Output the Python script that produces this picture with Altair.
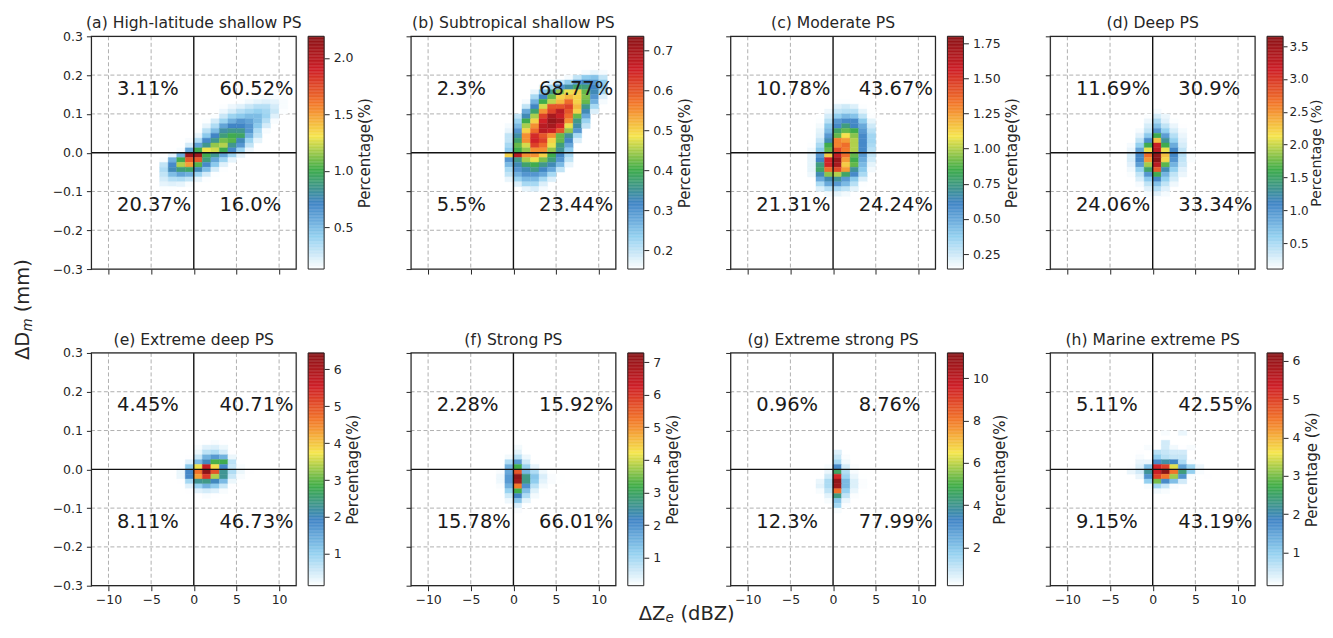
import altair as alt
import pandas as pd

FONT = "DejaVu Sans"
INK = "#262626"
STOPS = ["#ffffff", "#93d0f0", "#4185c6", "#40ad4a", "#f6e64e", "#f3772b", "#cf2028", "#8a1518"]

TITLES = ["(a) High-latitude shallow PS", "(b) Subtropical shallow PS", "(c) Moderate PS", "(d) Deep PS",
          "(e) Extreme deep PS", "(f) Strong PS", "(g) Extreme strong PS", "(h) Marine extreme PS"]
CB_TITLES = ["Percentage(%)", "Percentage(%)", "Percentage(%)", "Percentage (%)",
             "Percentage(%)", "Percentage(%)", "Percentage(%)", "Percentage (%)"]
VMIN = [0.132, 0.1525, 0.143, 0.104, 0.14, 0.14, 0.19, 0.14]
VMAX = [2.19, 0.735, 1.80, 3.65, 6.44, 7.28, 11.2, 6.2]
CB_TICKS = [[0.5, 1.0, 1.5, 2.0], [0.2, 0.3, 0.4, 0.5, 0.6, 0.7],
            [0.25, 0.5, 0.75, 1.0, 1.25, 1.5, 1.75], [0.5, 1.0, 1.5, 2.0, 2.5, 3.0, 3.5],
            [1, 2, 3, 4, 5, 6], [1, 2, 3, 4, 5, 6, 7], [2, 4, 6, 8, 10], [1, 2, 3, 4, 5, 6]]
CB_FORMAT = [".1f", ".1f", ".2f", ".1f", "d", "d", "d", "d"]

ANNOT = [["3.11%", "60.52%", "20.37%", "16.0%"], ["2.3%", "68.77%", "5.5%", "23.44%"],
         ["10.78%", "43.67%", "21.31%", "24.24%"], ["11.69%", "30.9%", "24.06%", "33.34%"],
         ["4.45%", "40.71%", "8.11%", "46.73%"], ["2.28%", "15.92%", "15.78%", "66.01%"],
         ["0.96%", "8.76%", "12.3%", "77.99%"], ["5.11%", "42.55%", "9.15%", "43.19%"]]
ANNOT_X = [-9, 3, -9, 3]
ANNOT_Y = [0.15, 0.15, -0.15, -0.15]

X_TICKS = [-10, -5, 0, 5, 10]
Y_TICKS = [-0.3, -0.2, -0.1, 0.0, 0.1, 0.2, 0.3]
GRID_X = [-10, -5, 5, 10]
GRID_Y = [-0.2, -0.1, 0.1, 0.2]
DY = 0.0125

# each row: (row number, first dBZ bin, percentages); row k spans (k-1)*DY .. k*DY
PANEL_A = [
    (12, 7, [.14, .15, .15, .14]),
    (11, 5, [.14, .17, .2, .22, .2, .15]),
    (10, 3, [.14, .18, .22, .28, .33, .33, .25, .15]),
    (9, 3, [.18, .25, .33, .38, .42, .38, .28, .14]),
    (8, 2, [.14, .28, .4, .45, .5, .5, .4, .22]),
    (7, 1, [.14, .25, .4, .55, .65, .6, .5, .33, .15]),
    (6, 1, [.2, .35, .6, .72, .72, .65, .45, .25]),
    (5, 0, [.14, .32, .5, .8, .85, .85, .65, .35, .15]),
    (4, 0, [.2, .45, .72, .9, 1.0, .95, .55, .3]),
    (3, -1, [.15, .35, .7, .85, 1.1, 1.05, .75, .4, .2]),
    (2, -1, [.25, .6, .85, 1.15, 1.2, .85, .65, .3]),
    (1, -2, [.15, .6, 1.0, 1.3, 1.25, 1.0, .7, .4, .18]),
    (0, -3, [.2, .55, 2.1, 2.1, 1.0, .85, .6, .4, .2]),
    (-1, -4, [.15, .55, 1.0, 1.7, 1.7, .9, .6, .4, .2]),
    (-2, -4, [.3, .7, 1.2, 1.5, 1.05, .7, .45, .22]),
    (-3, -4, [.35, .75, .9, .95, .75, .5, .25, .14]),
    (-4, -4, [.3, .5, .6, .55, .4, .25, .14]),
    (-5, -4, [.25, .33, .35, .3, .2, .14]),
    (-6, -4, [.2, .22, .2, .15]),
    (-7, -4, [.14, .14]),
]
PANEL_B = [
    (17, 8, [.16, .17, .16]),
    (16, 6, [.16, .2, .24, .25, .2]),
    (15, 4, [.17, .2, .24, .3, .32, .3, .24]),
    (14, 3, [.17, .22, .3, .34, .38, .37, .32, .25]),
    (13, 2, [.17, .25, .36, .44, .48, .5, .42, .33, .22]),
    (12, 2, [.22, .32, .42, .5, .52, .5, .43, .3, .18]),
    (11, 1, [.16, .27, .4, .46, .52, .58, .5, .42, .27, .16]),
    (10, 1, [.2, .32, .47, .6, .6, .62, .52, .36, .22]),
    (9, 1, [.28, .38, .55, .62, .68, .6, .5, .33, .18]),
    (8, 0, [.2, .33, .45, .62, .7, .66, .58, .42, .28]),
    (7, 0, [.23, .4, .5, .65, .72, .7, .55, .36, .23]),
    (6, -1, [.16, .26, .45, .55, .68, .7, .65, .48, .34, .2]),
    (5, -1, [.17, .3, .5, .58, .68, .66, .6, .44, .3]),
    (4, -1, [.2, .34, .55, .64, .6, .55, .42, .35, .22]),
    (3, -1, [.2, .38, .55, .65, .62, .5, .42, .32, .18]),
    (2, -1, [.22, .42, .47, .62, .58, .48, .37, .28]),
    (1, -1, [.24, .4, .44, .55, .55, .44, .35, .24]),
    (0, -1, [.5, .68, .55, .55, .5, .4, .32, .22]),
    (-1, -1, [.3, .36, .45, .48, .43, .37, .3, .2]),
    (-2, -1, [.26, .33, .38, .4, .36, .33, .26, .17]),
    (-3, -1, [.22, .3, .33, .36, .32, .28, .2]),
    (-4, -1, [.2, .27, .3, .3, .28, .22]),
    (-5, -1, [.17, .23, .26, .26, .22, .18]),
    (-6, 0, [.18, .22, .22, .18]),
    (-7, 1, [.17, .18, .16]),
]
PANEL_C = [
    (11, 0, [.15, .15, .145]),
    (10, -1, [.145, .22, .25, .22, .15]),
    (9, -1, [.18, .28, .3, .3, .2, .145]),
    (8, -2, [.145, .24, .38, .45, .42, .28, .15]),
    (7, -2, [.15, .3, .55, .6, .6, .4, .2]),
    (6, -2, [.17, .4, .6, .75, .62, .5, .25]),
    (5, -2, [.2, .45, .8, .9, .85, .55, .3]),
    (4, -2, [.22, .55, .9, 1.1, .95, .6, .35]),
    (3, -3, [.145, .27, .65, 1.3, 1.25, 1.0, .6, .35]),
    (2, -3, [.15, .33, .85, 1.3, 1.35, 1.0, .6, .33]),
    (1, -3, [.17, .4, .9, 1.45, 1.32, 1.0, .6, .3]),
    (0, -3, [.2, .55, 1.15, 1.6, 1.35, .9, .55, .28]),
    (-1, -3, [.2, .62, 1.55, 1.75, 1.25, .85, .5, .25]),
    (-2, -3, [.2, .75, 1.55, 1.7, 1.15, .9, .45, .2]),
    (-3, -3, [.2, .8, 1.35, 1.45, 1.25, .7, .4, .17]),
    (-4, -3, [.18, .65, .95, 1.0, .8, .6, .33]),
    (-5, -2, [.5, .65, .7, .55, .4, .22]),
    (-6, -2, [.33, .5, .55, .45, .3, .15]),
    (-7, -2, [.22, .3, .33, .28, .2]),
    (-8, -1, [.17, .2, .17]),
]
PANEL_D = [
    (9, 0, [.15]),
    (8, -1, [.12, .3, .2]),
    (7, -1, [.2, .5, .25, .12]),
    (6, -1, [.3, .7, .4, .2, .11]),
    (5, -2, [.15, .4, 1.0, .6, .3, .15]),
    (4, -2, [.25, .65, 1.6, .95, .45, .2]),
    (3, -2, [.4, 1.05, 2.3, 1.3, .6, .25]),
    (2, -3, [.15, .6, 1.6, 3.2, 1.6, .85, .3]),
    (1, -3, [.2, .9, 2.1, 3.3, 2.1, 1.1, .4, .12]),
    (0, -3, [.3, 1.1, 2.7, 3.6, 2.3, 1.1, .45, .13]),
    (-1, -3, [.3, 1.1, 2.5, 3.65, 2.2, 1.0, .4, .13]),
    (-2, -3, [.25, .95, 1.9, 3.3, 1.7, .8, .35]),
    (-3, -3, [.18, .6, 1.5, 2.8, 1.2, .6, .25]),
    (-4, -3, [.13, .4, 1.0, 1.6, .8, .4, .2]),
    (-5, -2, [.28, .65, 1.1, .6, .3]),
    (-6, -2, [.15, .4, .7, .4, .18]),
    (-7, -1, [.25, .45, .25]),
    (-8, -1, [.15, .25, .15]),
    (-9, 0, [.12]),
]
PANEL_E = [
    (6, 1, [.15, .2, .15]),
    (5, 0, [.2, .4, .45, .3]),
    (4, 0, [.3, .7, .8, .5, .15]),
    (3, -1, [.15, .6, 1.4, 1.7, 1.4, .3]),
    (2, -1, [.4, 1.3, 2.0, 2.9, 2.8, .7, .15]),
    (1, -2, [.15, 1.1, 3.7, 5.7, 3.8, 1.9, .6, .2]),
    (0, -2, [.3, 1.9, 4.7, 6.4, 5.0, 2.3, .8, .3, .15]),
    (-1, -2, [.3, 1.9, 4.3, 5.3, 3.4, 2.3, .6, .2]),
    (-2, -2, [.15, .9, 2.3, 2.4, 2.0, 1.3, .3]),
    (-3, -1, [.4, 1.0, 1.4, 1.1, .6, .15]),
    (-4, -1, [.15, .4, .5, .4, .2]),
    (-5, 0, [.15, .2, .15]),
]
PANEL_F = [
    (6, 0, [.15]),
    (5, 0, [.25]),
    (4, 0, [.4, .15]),
    (3, -1, [.25, .8, .3]),
    (2, -1, [.9, 1.9, .6, .15]),
    (1, -1, [1.6, 3.2, 1.1, .35]),
    (0, -2, [.2, 1.7, 5.6, 1.5, .9, .3, .15]),
    (-1, -2, [.3, 1.9, 7.2, 2.7, 1.3, .5, .2, .15]),
    (-2, -2, [.3, 1.9, 7.0, 2.7, 1.2, .4, .2, .15]),
    (-3, -2, [.2, 1.6, 5.2, 2.0, .8, .25]),
    (-4, -2, [.15, 1.1, 3.2, 1.4, .45, .15]),
    (-5, -1, [.6, 2.2, .9, .25]),
    (-6, -1, [.3, 1.3, .4]),
    (-7, 0, [.5, .15]),
    (-8, 0, [.2]),
]
PANEL_G = [
    (4, 0, [.7]),
    (3, 0, [1.0, .25]),
    (2, 0, [1.5, .4]),
    (1, -1, [.3, 3.2, .8, .25]),
    (0, -1, [.5, 4.6, 1.3, .3]),
    (-1, -2, [.2, .9, 9.5, 1.6, .5, .2]),
    (-2, -2, [.5, 1.4, 11.0, 2.2, .7, .25]),
    (-3, -2, [.6, 1.4, 10.8, 2.2, .7, .25]),
    (-4, -2, [.3, 1.1, 8.2, 1.7, .5, .2]),
    (-5, -1, [.6, 4.2, 1.1, .25]),
    (-6, -1, [.3, 2.0, .5]),
    (-7, 0, [1.5, .25]),
    (-8, 0, [.3]),
]
PANEL_H = [
    (8, 1, [.2, 0, .3]),
    (6, 1, [.5]),
    (5, -1, [.2, 0, .5, .25, .15, .2]),
    (4, -2, [.15, 0, .7, .6, .5, .5]),
    (3, -2, [.2, 0, 1.0, .7, .6, .6]),
    (2, -2, [.3, .3, 1.8, 2.1, 1.9, .8, .2, .15]),
    (1, -3, [.15, .4, 1.2, 5.3, 5.0, 3.5, 1.5, .9, .3]),
    (0, -3, [.3, .5, 2.2, 5.4, 6.2, 4.5, 2.4, 1.0, .2]),
    (-1, -2, [.3, 1.7, 5.0, 4.5, 3.2, 1.7, .2, 0, .15]),
    (-2, -1, [1.0, 3.0, 1.8, 1.2, .5]),
    (-3, -1, [.2, .9, .6, .2]),
    (-4, 0, [.25, .2]),
]
PANELS = [PANEL_A, PANEL_B, PANEL_C, PANEL_D, PANEL_E, PANEL_F, PANEL_G, PANEL_H]


def cells(rows):
    out = []
    for r, start, vals in rows:
        for i, v in enumerate(vals):
            if v > 0:
                out.append({"x0": start + i, "x1": start + i + 1,
                            "y0": (r - 1) * DY, "y1": r * DY, "v": v})
    return pd.DataFrame(out)


def label(text, x, y, size=19.5, angle=0, style="normal", align="left", base="alphabetic"):
    return alt.Chart(pd.DataFrame({"t": [text]})).mark_text(
        font=FONT, fontSize=size, angle=angle, fontStyle=style, align=align, baseline=base, color=INK).encode(
        x=alt.value(x), y=alt.value(y), text="t:N")


def panel(i):
    lo, hi = VMIN[i], VMAX[i]
    dom = [lo + k * (hi - lo) / 7 for k in range(8)]
    col = alt.Scale(domain=dom, range=STOPS, clamp=True, interpolate="rgb")
    xs = alt.Scale(domain=[-12, 12], nice=False)
    ys = alt.Scale(domain=[-0.3, 0.3], nice=False)
    show_y = i % 4 == 0
    show_x = i >= 4
    xa = alt.Axis(values=X_TICKS, labels=show_x, title=None, grid=False, domain=False, tickSize=5,
                  tickColor=INK, labelColor=INK, labelFont=FONT, labelFontSize=12.5, labelPadding=3,
                  labelOverlap=False, labelExpr="replace(format(datum.value,'d'),'-','−')")
    ya = alt.Axis(values=Y_TICKS, labels=show_y, title=None, grid=False, domain=False, tickSize=5,
                  tickColor=INK, labelColor=INK, labelFont=FONT, labelFontSize=12.5, labelPadding=4,
                  labelOverlap=False, labelExpr="replace(format(datum.value,'.1f'),'-','−')")
    grid_x = alt.Chart(pd.DataFrame({"x": GRID_X})).mark_rule(color="#b0b0b0", strokeDash=[4, 2.5], strokeWidth=1).encode(
        x=alt.X("x:Q", scale=xs, axis=xa))
    grid_y = alt.Chart(pd.DataFrame({"y": GRID_Y})).mark_rule(color="#b0b0b0", strokeDash=[4, 2.5], strokeWidth=1).encode(
        y=alt.Y("y:Q", scale=ys, axis=ya))
    heat = alt.Chart(cells(PANELS[i])).mark_rect(strokeWidth=0.4).encode(
        x=alt.X("x0:Q", scale=xs, axis=xa), x2="x1:Q",
        y=alt.Y("y0:Q", scale=ys, axis=ya), y2="y1:Q",
        fill=alt.Fill("v:Q", scale=col, legend=None),
        stroke=alt.Stroke("v:Q", scale=col, legend=None))
    v0 = alt.Chart(pd.DataFrame({"x": [0]})).mark_rule(color="#111111", strokeWidth=1.4).encode(
        x=alt.X("x:Q", scale=xs, axis=xa))
    h0 = alt.Chart(pd.DataFrame({"y": [0]})).mark_rule(color="#111111", strokeWidth=1.4).encode(
        y=alt.Y("y:Q", scale=ys, axis=ya))
    notes = alt.Chart(pd.DataFrame({"x": ANNOT_X, "y": ANNOT_Y, "t": ANNOT[i]})).mark_text(
        font=FONT, fontSize=19.5, align="left", baseline="alphabetic", color="#1a1a1a").encode(
        x=alt.X("x:Q", scale=xs, axis=xa), y=alt.Y("y:Q", scale=ys, axis=ya), text="t:N")
    parts = [grid_x, grid_y, heat, v0, h0, notes,
             label(TITLES[i], 102.5, -8, size=15.6, align="center")]
    if i == 0:
        parts += [label("ΔD", -62.5, 324, angle=270),
                  label("m", -59.5, 295.6, size=13.5, angle=270, style="italic"),
                  label("(mm)", -62.5, 276.3, angle=270)]
    if i == 6:
        parts += [label("ΔZ", -92, 267),
                  label("e", -65.3, 269.5, size=13.5, style="italic"),
                  label("(dBZ)", -50.3, 267)]
    left = alt.layer(*parts)

    n = 160
    bar = pd.DataFrame({"a": [lo + (hi - lo) * k / n for k in range(n)],
                        "b": [lo + (hi - lo) * (k + 1) / n for k in range(n)]})
    bar["v"] = (bar["a"] + bar["b"]) / 2
    bs = alt.Scale(domain=[lo, hi], nice=False)
    tight = i == 3  # the page edge leaves panel (d) a little less room on its right
    ca = alt.Axis(orient="right", offset=28, values=CB_TICKS[i], format=CB_FORMAT[i], title=CB_TITLES[i],
                  grid=False, domain=False, tickSize=4 if tight else 5, tickColor=INK, labelColor=INK, labelFont=FONT,
                  labelFontSize=12 if tight else 12.5, labelPadding=2 if tight else 4, labelOverlap=False,
                  titleFont=FONT, titleFontSize=14 if tight else 15,
                  titleFontWeight="normal", titleColor=INK, titlePadding=15.5 if tight else 19.5, titleAngle=270)
    cbar = alt.Chart(bar).mark_rect(strokeWidth=0.4).encode(
        x=alt.value(217), x2=alt.value(233),
        y=alt.Y("a:Q", scale=bs, axis=ca), y2="b:Q",
        fill=alt.Fill("v:Q", scale=col, legend=None),
        stroke=alt.Stroke("v:Q", scale=col, legend=None))
    frame = alt.Chart(pd.DataFrame({"k": [1]})).mark_rect(fill=None, stroke=INK, strokeWidth=1).encode(
        x=alt.value(217), x2=alt.value(233), y=alt.value(0), y2=alt.value(233))
    border = alt.Chart(pd.DataFrame({"k": [1]})).mark_rect(fill=None, stroke=INK, strokeWidth=1.2).encode(
        x=alt.value(0), x2=alt.value(205), y=alt.value(0), y2=alt.value(233))
    return alt.layer(left, cbar, frame, border).resolve_scale(y="independent").properties(width=205, height=233)


chart = alt.concat(*[panel(i) for i in range(8)], columns=4, spacing={"row": 84, "column": 115}, bounds="flush").resolve_scale(
    fill="independent", stroke="independent").properties(
    padding={"left": 4.5, "top": 7, "right": 0, "bottom": -1.5},
).configure_view(stroke=None).configure(background="white")

chart.save("out.html", embed_options={"renderer": "svg", "actions": False})
